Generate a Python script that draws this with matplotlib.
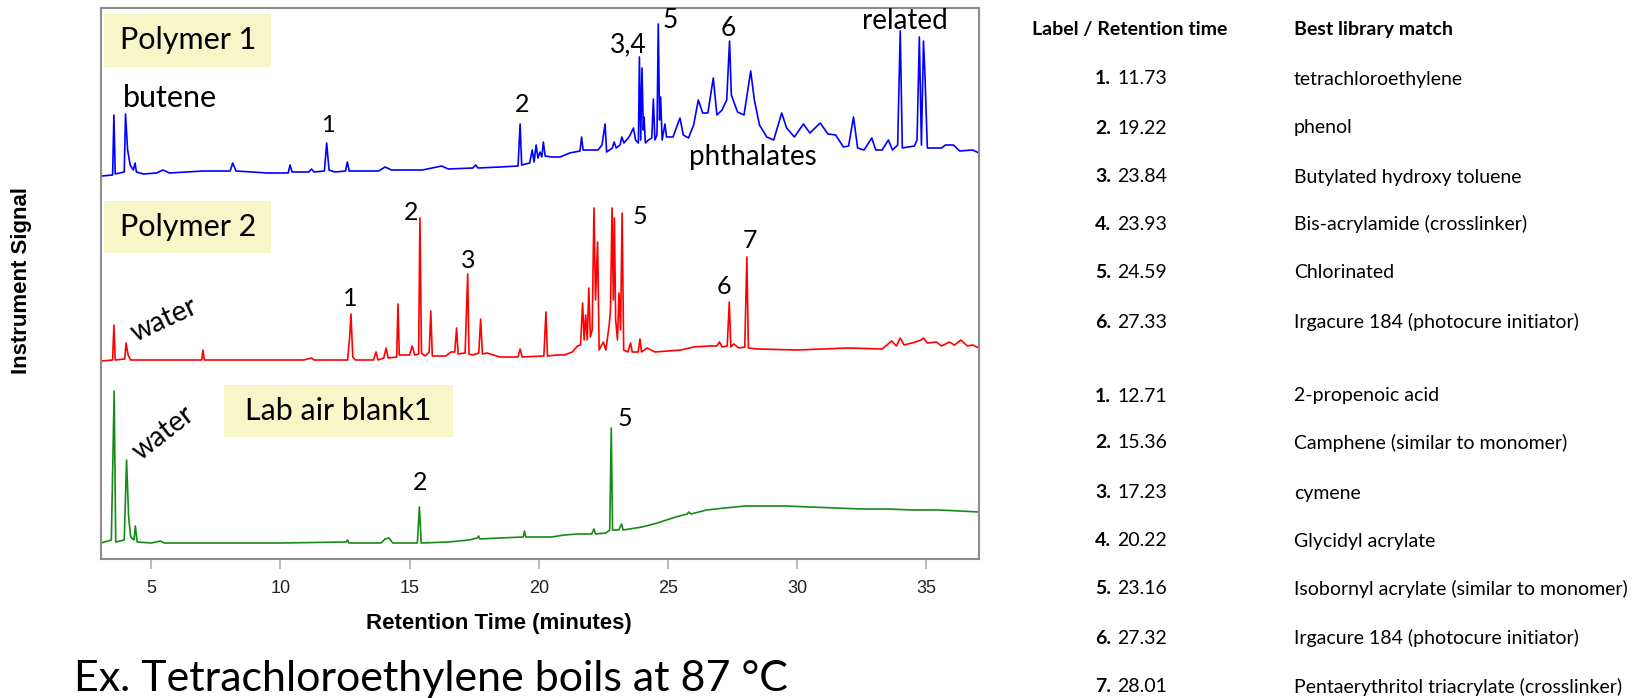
import matplotlib
matplotlib.use("Agg")
import matplotlib.pyplot as plt
from matplotlib.patches import Rectangle

# =========================
# DATA
# =========================

# Polymer 1 trace (blue): retention time (min) / signal (a.u.)
p1_time = [3.08, 3.50, 3.55, 3.60, 3.95, 4.00, 4.08, 4.18, 4.30, 4.37, 4.42, 4.7, 5.2, 5.45, 5.7,
           7.0, 8.05, 8.15, 8.28, 9.5, 10.3, 10.37, 10.45, 11.1, 11.2, 11.3, 11.70, 11.79, 11.88,
           12.1, 12.52, 12.59, 12.66, 13.8, 14.05, 14.3, 15.5, 16.24, 16.5, 17.45, 17.56, 17.65,
           18.5, 19.2, 19.28, 19.34, 19.65, 19.75, 19.82, 19.9, 19.97, 20.05, 20.12, 20.18, 20.25,
           20.5, 20.83, 21.2, 21.4, 21.6, 21.66, 21.72, 22.3, 22.45, 22.57, 22.63, 22.85, 22.92,
           23.0, 23.15, 23.22, 23.3, 23.5, 23.67, 23.75, 23.86, 23.9, 23.95, 24.0, 24.05, 24.08,
           24.13, 24.25, 24.38, 24.44, 24.5, 24.58, 24.63, 24.68, 24.72, 24.78, 24.89, 24.95, 25.2,
           25.47, 25.6, 25.8, 26.0, 26.18, 26.35, 26.55, 26.76, 26.9, 27.1, 27.28, 27.39, 27.46,
           27.7, 27.95, 28.21, 28.35, 28.55, 28.83, 29.1, 29.41, 29.6, 29.9, 30.25, 30.5, 30.9,
           31.2, 31.5, 31.8, 32.0, 32.19, 32.35, 32.6, 32.9, 33.05, 33.3, 33.54, 33.7, 33.9, 34.0,
           34.08, 34.55, 34.65, 34.74, 34.82, 34.9, 34.95, 35.05, 35.6, 35.75, 36.06, 36.3, 36.8,
           37.05]
p1_signal = [3, 4, 64, 5, 7, 65, 29, 14, 9, 16, 7, 5, 6, 9, 6,
             8, 8, 16, 8, 6, 6, 14, 7, 7, 10, 7, 8, 36, 9,
             7, 8, 17, 8, 8, 12, 9, 9, 13, 10, 11, 14, 11,
             12, 13, 55, 14, 16, 29, 17, 34, 21, 27, 22, 37, 23,
             22, 22, 26, 27, 28, 42, 29, 29, 34, 55, 27, 31, 37,
             31, 34, 42, 36, 42, 51, 39, 36, 122, 39, 111, 49, 62,
             36, 39, 41, 80, 39, 44, 155, 59, 82, 39, 55, 42, 42,
             61, 44, 41, 54, 79, 66, 66, 101, 64, 69, 79, 138, 84,
             67, 64, 108, 79, 54, 42, 39, 66, 51, 42, 55, 46, 56,
             45, 44, 32, 33, 62, 31, 29, 41, 29, 29, 39, 29, 34, 148,
             31, 33, 39, 142, 34, 138, 109, 31, 31, 34, 34, 28, 29,
             26]

# Polymer 2 trace (red)
p2_time = [3.08, 3.50, 3.55, 3.60, 3.97, 4.02, 4.10, 4.2, 6.95, 7.0, 7.05, 10.9, 11.2, 11.3,
           12.6, 12.68, 12.73, 12.80, 12.9, 13.6, 13.7, 13.78, 14.0, 14.09, 14.17, 14.5, 14.55,
           14.6, 15.0, 15.1, 15.2, 15.35, 15.4, 15.46, 15.6, 15.76, 15.82, 15.88, 16.4, 16.6,
           16.75, 16.82, 16.88, 17.15, 17.25, 17.3, 17.45, 17.68, 17.75, 17.82, 18.0, 18.5, 19.2,
           19.28, 19.36, 20.2, 20.28, 20.34, 20.7, 21.0, 21.3, 21.5, 21.62, 21.7, 21.76, 21.82,
           21.88, 21.94, 22.0, 22.07, 22.14, 22.2, 22.28, 22.34, 22.5, 22.6, 22.73, 22.78, 22.84,
           22.89, 22.93, 22.98, 23.05, 23.11, 23.17, 23.23, 23.29, 23.45, 23.56, 23.62, 23.85,
           23.92, 23.98, 24.2, 24.5, 25.5, 26.0, 26.6, 26.9, 27.0, 27.1, 27.3, 27.38, 27.44,
           27.55, 27.75, 27.98, 28.06, 28.12, 28.5, 30.0, 32.0, 33.3, 33.67, 33.85, 34.0, 34.15,
           34.6, 34.8, 34.9, 35.05, 35.4, 35.6, 35.9, 36.1, 36.35, 36.6, 36.8, 37.05]
p2_signal = [3, 4, 39, 4, 5, 21, 9, 4, 4, 14, 4, 4, 6, 4,
             4, 27, 50, 7, 4, 4, 12, 4, 6, 16, 6, 7, 60,
             9, 9, 18, 9, 10, 146, 11, 8, 12, 53, 8, 8, 12,
             12, 36, 10, 11, 90, 10, 9, 11, 45, 10, 11, 7, 7,
             15, 7, 8, 52, 8, 9, 9, 12, 18, 19, 61, 24, 49,
             24, 76, 27, 34, 156, 64, 122, 14, 22, 14, 39, 54, 156,
             64, 146, 44, 24, 71, 34, 151, 14, 12, 21, 12, 12,
             25, 12, 16, 12, 14, 17, 18, 18, 22, 17, 18, 62, 17,
             20, 16, 17, 107, 16, 15, 14, 16, 15, 23, 18, 26, 19,
             22, 24, 26, 21, 22, 18, 22, 19, 24, 18, 19, 16]

# Lab air blank1 trace (green)
blank_time = [3.05, 3.45, 3.56, 3.62, 3.95, 4.04, 4.12, 4.2, 4.33, 4.38, 4.45, 5.0, 5.35, 5.5,
              10.0, 12.55, 12.6, 12.65, 13.9, 14.05, 14.2, 14.35, 15.3, 15.38, 15.45, 16.5,
              17.3, 17.62, 17.67, 17.72, 18.5, 19.4, 19.45, 19.5, 20.5, 21.0, 21.5, 22.05, 22.14,
              22.2, 22.6, 22.75, 22.81, 22.86, 23.1, 23.21, 23.27, 24.0, 24.6, 25.3, 25.75, 25.81,
              25.9, 26.5, 27.2, 28.0, 28.8, 29.6, 30.5, 31.5, 32.5, 33.5, 34.5, 35.5, 36.3, 37.05]
blank_signal = [6, 9, 158, 7, 9, 89, 32, 12, 9, 23, 7, 6, 8, 6,
                6, 7, 9, 6, 6, 10, 11, 6, 6, 42, 6, 7,
                9, 11, 13, 10, 11, 12, 18, 12, 12, 14, 15, 15, 20,
                15, 16, 19, 121, 19, 19, 25, 19, 22, 26, 32, 35, 37,
                35, 39, 41, 43, 43, 43, 42, 41, 40, 40, 39, 39, 38, 37]

# vertical stacking of the three runs
offsets = [380, 195, 10]
colors = ["#0000ff", "#ff0000", "#168a16"]

x_ticks = [5, 10, 15, 20, 25, 30, 35]

# peak-identification table
table1_labels = ["1.", "2.", "3.", "4.", "5.", "6."]
table1_times = ["11.73", "19.22", "23.84", "23.93", "24.59", "27.33"]
table1_names = ["tetrachloroethylene", "phenol", "Butylated hydroxy toluene",
                "Bis-acrylamide (crosslinker)", "Chlorinated",
                "Irgacure 184 (photocure initiator)"]
table2_labels = ["1.", "2.", "3.", "4.", "5.", "6.", "7."]
table2_times = ["12.71", "15.36", "17.23", "20.22", "23.16", "27.32", "28.01"]
table2_names = ["2-propenoic acid", "Camphene (similar to monomer)", "cymene",
                "Glycidyl acrylate", "Isobornyl acrylate (similar to monomer)",
                "Irgacure 184 (photocure initiator)", "Pentaerythritol triacrylate (crosslinker)"]

# =========================
# FIGURE
# =========================

W, H = 1639, 698
fig = plt.figure(figsize=(W / 100, H / 100), dpi=100)
ax = fig.add_axes([101 / W, 1 - 559 / H, 878 / W, 551 / H])

traces = [(p1_time, p1_signal), (p2_time, p2_signal), (blank_time, blank_signal)]
for (t, s), off, c in zip(traces, offsets, colors):
    ax.plot(t, [v + off for v in s], color=c, lw=1.2, zorder=2)

ax.set_xlim(3.05, 37.05)
ax.set_ylim(0, 551)
ax.set_xticks(x_ticks)
ax.set_yticks([])
ax.tick_params(axis="x", labelsize=13, length=7, width=1.2, color="#b0b0b0",
               labelcolor="#222222", pad=8)
for lbl in ax.get_xticklabels():
    lbl.set_family("Liberation Sans")
for sp in ax.spines.values():
    sp.set_color("#8c8c8c")
    sp.set_linewidth(1.5)

LBL = "Lato"
box_col = "#f6f6c8"

# sample name boxes
for (t0, t1, l0, l1), name in [((3.17, 9.64, 492, 545), "Polymer 1"),
                               ((3.17, 9.64, 306, 358), "Polymer 2"),
                               ((7.81, 16.68, 122, 174), "Lab air blank1")]:
    ax.add_patch(Rectangle((t0, l0), t1 - t0, l1 - l0, facecolor=box_col,
                           edgecolor="none", zorder=1))
    ax.text((t0 + t1) / 2, (l0 + l1) / 2, name, family=LBL, fontsize=22,
            ha="center", va="center", zorder=3)

# peak annotations
notes = [
    (5.72, 461, "butene", 22, 0), (11.84, 433, "1", 17, 0), (19.35, 454, "2", 18, 0),
    (23.46, 514, "3,4", 19, 0), (25.09, 539, "5", 19, 0), (27.33, 531, "6", 19, 0),
    (34.19, 538, "related", 20, 0), (28.3, 402, "phthalates", 20, 0),
    (5.49, 239, "water", 20, 25), (12.69, 261, "1", 18, 0), (15.06, 347, "2", 18, 0),
    (17.26, 299, "3", 18, 0), (23.93, 342, "5", 18, 0), (27.18, 272, "6", 18, 0),
    (28.18, 318, "7", 18, 0),
    (5.45, 126, "water", 20, 38), (15.4, 76, "2", 18, 0), (23.34, 140, "5", 18, 0),
]
for t, lev, txt, fs, rot in notes:
    ax.text(t, lev, txt, family=LBL, fontsize=fs, rotation=rot,
            ha="center", va="center", zorder=3)

# axis titles
fig.text(499 / W, 1 - 624 / H, "Retention Time (minutes)", family="Liberation Sans",
         weight="bold", fontsize=16, ha="center", va="center")
fig.text(22 / W, 1 - 280 / H, "Instrument Signal", family="Liberation Sans",
         weight="bold", fontsize=16, rotation=90, ha="center", va="center")

fig.text(74 / W, 1 - 679 / H, "Ex. Tetrachloroethylene boils at 87 °C", family=LBL,
         fontsize=31, ha="left", va="center")

# =========================
# TABLE
# =========================

fig.text(1032 / W, 1 - 29 / H, "Label / Retention time", family=LBL, weight="bold",
         fontsize=14, ha="left", va="center")
fig.text(1294 / W, 1 - 29 / H, "Best library match", family=LBL, weight="bold",
         fontsize=14, ha="left", va="center")

rows1_y = [79, 128, 177, 224, 273, 322]
rows2_y = [396, 443, 493, 541, 589, 638, 687]
for ys, labs, times, names in [(rows1_y, table1_labels, table1_times, table1_names),
                               (rows2_y, table2_labels, table2_times, table2_names)]:
    for y, lab, tm, nm in zip(ys, labs, times, names):
        yy = 1 - y / H
        fig.text(1095 / W, yy, lab, family=LBL, weight="bold", fontsize=14,
                 ha="left", va="center")
        fig.text(1117 / W, yy, tm, family=LBL, fontsize=14, ha="left", va="center")
        fig.text(1294 / W, yy, nm, family=LBL, fontsize=14, ha="left", va="center")

fig.savefig("out.png", dpi=100)
